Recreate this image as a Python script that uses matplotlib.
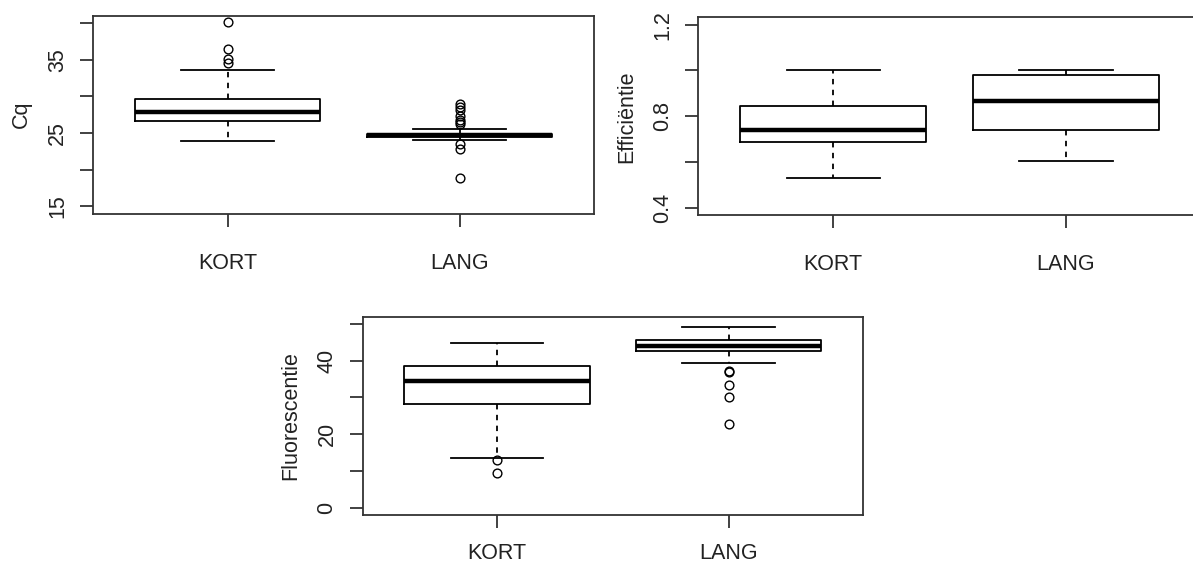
import matplotlib
matplotlib.use("Agg")
import matplotlib.pyplot as plt

plt.rcParams['font.family'] = ['Liberation Sans', 'DejaVu Sans']

groups = ["KORT", "LANG"]

# Cq: [whislo, q1, med, q3, whishi]
cq_kort = [23.9, 26.6, 27.85, 29.7, 33.6]
cq_kort_out = [40.1, 36.5, 35.1, 34.6]
cq_lang = [24.1, 24.45, 24.7, 24.9, 25.5]
cq_lang_out = [29.0, 28.6, 28.2, 27.3, 26.8, 26.5, 26.2, 23.5, 22.8, 18.9]

# Efficientie
ef_kort = [0.53, 0.69, 0.742, 0.846, 1.0]
ef_kort_out = []
ef_lang = [0.605, 0.74, 0.866, 0.982, 1.0]
ef_lang_out = []

# Fluorescentie
fl_kort = [13.4, 28.1, 34.5, 38.5, 44.9]
fl_kort_out = [13.0, 9.4]
fl_lang = [39.3, 42.7, 44.0, 45.6, 49.1]
fl_lang_out = [37.3, 37.0, 33.3, 30.1, 22.9]

cq_ticks = [15, 20, 25, 30, 35, 40]
cq_labels = ["15", "", "25", "", "35", ""]
ef_ticks = [0.4, 0.6, 0.8, 1.0, 1.2]
ef_labels = ["0.4", "", "0.8", "", "1.2"]
fl_ticks = [0, 10, 20, 30, 40, 50]
fl_labels = ["0", "", "20", "", "40", ""]

W, H = 1193, 568
fig = plt.figure(figsize=(W / 100, H / 100), dpi=100)

FS = 15.5
LC = "#333333"
LW = 1.3


def stats(vals, out, label):
    lo, q1, med, q3, hi = vals
    return dict(whislo=lo, q1=q1, med=med, q3=q3, whishi=hi, fliers=out, label=label)


def panel(rect_px, data, ylim, ticks, labels, ylabel, xpad):
    l, t, r, b = rect_px
    ax = fig.add_axes([l / W, 1 - b / H, (r - l) / W, (b - t) / H])
    st = [stats(v, o, g) for (v, o), g in zip(data, groups)]
    ax.bxp(st, positions=[1, 2], widths=0.8, capwidths=0.4, showfliers=True,
           boxprops=dict(color="black", linewidth=LW),
           medianprops=dict(color="black", linewidth=3.2, solid_capstyle="butt"),
           whiskerprops=dict(color="black", linewidth=LW, linestyle=(0, (3, 3))),
           capprops=dict(color="black", linewidth=LW),
           flierprops=dict(marker="o", markerfacecolor="none", markeredgecolor="black",
                           markersize=6.3, markeredgewidth=1.0, linestyle="none"))
    ax.set_xlim(0.42, 2.58)
    ax.set_ylim(*ylim)
    ax.set_yticks(ticks)
    ax.set_yticklabels(labels, rotation=90, va="center")
    ax.set_xticks([1, 2])
    ax.set_xticklabels(groups)
    for s in ax.spines.values():
        s.set_color(LC)
        s.set_linewidth(LW)
    ax.tick_params(axis="both", direction="out", length=9.1, width=LW, color=LC,
                   labelsize=FS, labelcolor="#222222")
    ax.tick_params(axis="y", pad=9.0)
    ax.tick_params(axis="x", pad=xpad)
    ax.set_ylabel(ylabel, fontsize=FS, color="#222222")
    ax.yaxis.set_label_coords(-66 / (r - l), 0.5)
    ax.yaxis.label.set_va("baseline")
    return ax


panel((93.3, 15.7, 594.0, 213.7), [(cq_kort, cq_kort_out), (cq_lang, cq_lang_out)],
      (14.0, 41.0), cq_ticks, cq_labels, "Cq", 19.0)
panel((698.3, 17.3, 1201.0, 215.3), [(ef_kort, ef_kort_out), (ef_lang, ef_lang_out)],
      (0.368, 1.232), ef_ticks, ef_labels, "Efficiëntie", 19.0)
panel((362.7, 316.7, 863.0, 515.0), [(fl_kort, fl_kort_out), (fl_lang, fl_lang_out)],
      (-2.0, 52.0), fl_ticks, fl_labels, "Fluorescentie", 11.0)

fig.savefig("out.png", dpi=100)
